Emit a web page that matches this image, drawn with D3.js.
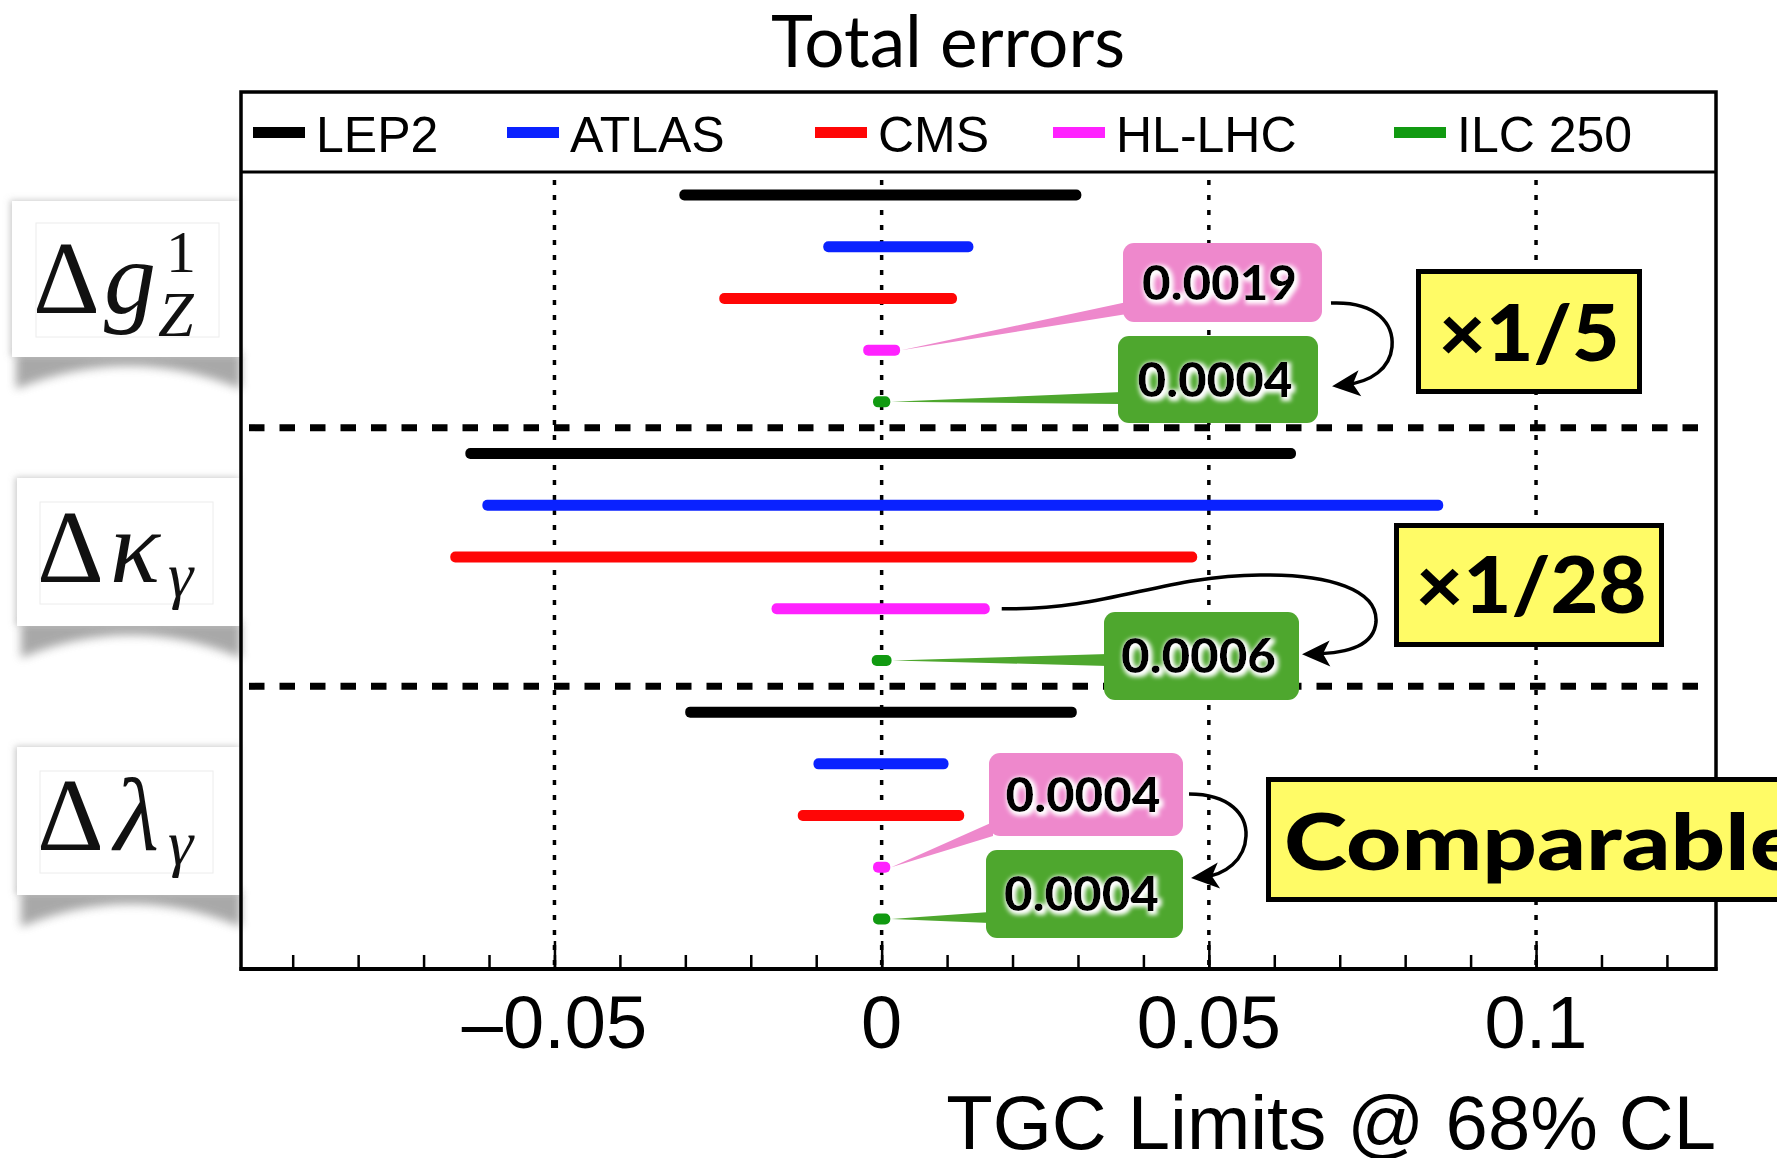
<!DOCTYPE html>
<html>
<head>
<meta charset="utf-8">
<script src="https://cdnjs.cloudflare.com/ajax/libs/d3/7.8.5/d3.min.js"></script>
<style>
  html, body { margin: 0; padding: 0; background: #fff; }
  svg { display: block; }
</style>
</head>
<body>
<svg id="chart" width="1777" height="1158"></svg>
<script>
// ---- data ----
const series = ["LEP2", "ATLAS", "CMS", "HL-LHC", "ILC 250"];
const seriesColors = ["#000000", "#0a22ff", "#ff0606", "#ff22ff", "#119a11"];

// 68% CL intervals, order = series
const g1zLow  = [-0.0300, -0.0080, -0.0239, -0.0019, -0.0004];
const g1zHigh = [ 0.0296,  0.0131,  0.0106,  0.0019,  0.0004];
const kgLow   = [-0.0627, -0.0601, -0.0650, -0.0159, -0.0006];
const kgHigh  = [ 0.0624,  0.0849,  0.0473,  0.0156,  0.0006];
const lgLow   = [-0.0291, -0.0095, -0.0119, -0.0004, -0.0004];
const lgHigh  = [ 0.0289,  0.0093,  0.0117,  0.0004,  0.0004];

const majorTicks = [-0.05, 0, 0.05, 0.1];
const tickLabels = ["\u20130.05", "0", "0.05", "0.1"];
const minorTicks = d3.range(-9, 13).map(d => d / 100);

const calloutLabels = ["0.0019", "0.0004", "0.0006", "0.0004", "0.0004"];
const ratioLabels = ["\u00d71/5", "\u00d71/28", "Comparable"];

// ---- layout ----
const svg = d3.select("#chart");
const frame = { left: 241, right: 1716, top: 92, legendBottom: 172, bottom: 969 };
const capPad = 6;
const barH = 11;

const x = d3.scaleLinear().domain([-0.0979, 0.1275]).range([frame.left, frame.right]);
const y = d3.scaleLinear().domain([0, 14]).range([195, 919]);

const groups = [
    { low: g1zLow, high: g1zHigh },
    { low: kgLow, high: kgHigh },
    { low: lgLow, high: lgHigh }
];

let defs = svg.append("defs");

let glow = defs.append("filter").attr("id", "glow")
    .attr("x", "-20%").attr("y", "-40%").attr("width", "140%").attr("height", "180%");
glow.append("feMorphology").attr("in", "SourceAlpha").attr("operator", "dilate").attr("radius", 2).attr("result", "d");
glow.append("feGaussianBlur").attr("in", "d").attr("stdDeviation", 2).attr("result", "b");
glow.append("feOffset").attr("in", "b").attr("dx", 1.5).attr("dy", 1.5).attr("result", "o");
glow.append("feFlood").attr("flood-color", "#ffffff").attr("result", "w");
glow.append("feComposite").attr("in", "w").attr("in2", "o").attr("operator", "in").attr("result", "halo");
let gm = glow.append("feMerge");
gm.append("feMergeNode").attr("in", "halo");
gm.append("feMergeNode").attr("in", "SourceGraphic");

defs.append("filter").attr("id", "blur")
    .attr("x", "-20%").attr("y", "-50%").attr("width", "140%").attr("height", "200%")
    .append("feGaussianBlur").attr("stdDeviation", 5);

defs.append("filter").attr("id", "cardEdge")
    .attr("x", "-10%").attr("y", "-10%").attr("width", "120%").attr("height", "120%")
    .append("feDropShadow").attr("dx", -2).attr("dy", -1).attr("stdDeviation", 3)
    .attr("flood-color", "#999").attr("flood-opacity", 0.5);

defs.append("marker").attr("id", "head")
    .attr("markerUnits", "userSpaceOnUse")
    .attr("viewBox", "-20 -14 34 28")
    .attr("markerWidth", 34).attr("markerHeight", 28)
    .attr("refX", 0).attr("refY", 0)
    .attr("orient", "auto")
    .append("path")
    .attr("d", "M12,0 L-16,-13 L-9,0 L-16,13 Z")
    .attr("fill", "#000");

// ---- title ----
svg.append("text")
    .attr("x", 948).attr("y", 67)
    .attr("text-anchor", "middle")
    .attr("font-family", "Lato, 'Open Sans', sans-serif")
    .attr("font-size", 72)
    .attr("textLength", 354).attr("lengthAdjust", "spacingAndGlyphs")
    .text("Total errors");

// ---- coupling cards on the left ----
const cards = [
    { x: 12, y: 201, h: 156, inner: [36, 223, 183, 114] },
    { x: 17, y: 478, h: 148, inner: [40, 502, 173, 102] },
    { x: 17, y: 747, h: 148, inner: [40, 771, 173, 102] }
];

cards.forEach(c => {
    let L = c.x + 4, R = frame.left, B = c.y + c.h;
    svg.append("path")
        .attr("d", `M${L},${B - 4} L${R},${B - 4} L${R},${B + 32} Q${(L + R) / 2},${B - 14} ${L},${B + 32} Z`)
        .attr("fill", "#7a7a7a")
        .attr("opacity", 0.65)
        .attr("filter", "url(#blur)");
    svg.append("rect")
        .attr("x", c.x).attr("y", c.y)
        .attr("width", frame.left - c.x).attr("height", c.h)
        .attr("fill", "#fff")
        .attr("filter", "url(#cardEdge)");
    svg.append("rect")
        .attr("x", c.inner[0]).attr("y", c.inner[1])
        .attr("width", c.inner[2]).attr("height", c.inner[3])
        .attr("fill", "#fff").attr("stroke", "#ececec").attr("stroke-width", 1);
});

const mathFont = "'Liberation Serif', 'Times New Roman', serif";
function mathText(px, py, size, str, italic) {
    svg.append("text")
        .attr("x", px).attr("y", py)
        .attr("font-family", mathFont)
        .attr("font-size", size)
        .attr("font-style", italic ? "italic" : "normal")
        .attr("fill", "#111")
        .text(str);
}
// Δg_Z^1
mathText(33, 313, 104, "\u0394", false);
mathText(104, 313, 104, "g", true);
mathText(166, 272, 60, "1", false);
mathText(158, 336, 64, "Z", true);
// Δκ_γ
mathText(37, 582, 104, "\u0394", false);
mathText(110, 582, 104, "\u03ba", true);
mathText(168, 596, 64, "\u03b3", true);
// Δλ_γ
mathText(37, 850, 104, "\u0394", false);
mathText(114, 850, 104, "\u03bb", true);
mathText(168, 864, 64, "\u03b3", true);

// ---- frame and legend ----
svg.append("rect")
    .attr("x", frame.left).attr("y", frame.top)
    .attr("width", frame.right - frame.left).attr("height", frame.bottom - frame.top)
    .attr("fill", "none").attr("stroke", "#000").attr("stroke-width", 3.5);

svg.append("line")
    .attr("x1", frame.left).attr("x2", frame.right)
    .attr("y1", frame.legendBottom).attr("y2", frame.legendBottom)
    .attr("stroke", "#000").attr("stroke-width", 3);

const legendX = [253, 507, 815, 1053, 1394];
let legend = svg.append("g").selectAll("g").data(series).join("g")
    .attr("transform", (d, i) => `translate(${legendX[i]},0)`);
legend.append("line")
    .attr("x1", 0).attr("x2", 52).attr("y1", 132.5).attr("y2", 132.5)
    .attr("stroke", (d, i) => seriesColors[i]).attr("stroke-width", 11);
legend.append("text")
    .attr("x", 63).attr("y", 152)
    .attr("font-family", "'Liberation Sans', Arial, sans-serif")
    .attr("font-size", 50)
    .text(d => d);

// ---- grid and axis ----
svg.append("g").selectAll("line").data(majorTicks).join("line")
    .attr("x1", d => x(d)).attr("x2", d => x(d))
    .attr("y1", frame.legendBottom + 8).attr("y2", frame.bottom - 2)
    .attr("stroke", "#000").attr("stroke-width", 3.5)
    .attr("stroke-dasharray", "5 10");

let minorAxis = svg.append("g")
    .attr("transform", `translate(0,${frame.bottom})`)
    .call(d3.axisTop(x).tickValues(minorTicks).tickSize(14).tickFormat(""));
let majorAxis = svg.append("g")
    .attr("transform", `translate(0,${frame.bottom})`)
    .call(d3.axisTop(x).tickValues(majorTicks).tickSize(28).tickFormat(""));
[minorAxis, majorAxis].forEach(a => {
    a.select(".domain").remove();
    a.selectAll(".tick line").attr("stroke", "#000").attr("stroke-width", 2.5);
});

svg.append("line")
    .attr("x1", frame.left - 1.5).attr("x2", frame.right + 1.5)
    .attr("y1", frame.bottom).attr("y2", frame.bottom)
    .attr("stroke", "#000").attr("stroke-width", 4);

svg.append("g").selectAll("text").data(majorTicks).join("text")
    .attr("x", d => x(d)).attr("y", 1048)
    .attr("text-anchor", "middle")
    .attr("font-family", "'Liberation Sans', Arial, sans-serif")
    .attr("font-size", 74)
    .text((d, i) => tickLabels[i]);

svg.append("text")
    .attr("x", frame.right).attr("y", 1149)
    .attr("text-anchor", "end")
    .attr("font-family", "'Liberation Sans', Arial, sans-serif")
    .attr("font-size", 76)
    .text("TGC Limits @ 68% CL");

// ---- bars ----
let rows = [];
groups.forEach((g, gi) => {
    series.forEach((s, si) => {
        rows.push({ row: gi * 5 + si, lo: g.low[si], hi: g.high[si], color: seriesColors[si] });
    });
});

svg.append("g").selectAll("rect").data(rows).join("rect")
    .attr("x", d => x(d.lo) - capPad)
    .attr("width", d => x(d.hi) - x(d.lo) + 2 * capPad)
    .attr("y", d => y(d.row) - barH / 2)
    .attr("height", barH)
    .attr("rx", 5)
    .attr("fill", d => d.color);

// group separators
svg.append("g").selectAll("line").data([4.5, 9.5]).join("line")
    .attr("x1", frame.left + 8).attr("x2", frame.right - 6)
    .attr("y1", d => y(d)).attr("y2", d => y(d))
    .attr("stroke", "#000").attr("stroke-width", 7)
    .attr("stroke-dasharray", "15.5 15");

// ---- callouts ----
const pink = "#ee88cc", green = "#4ea72e";
const callouts = [
    { g: 0, s: 3, fill: pink,  box: [1123, 243, 199, 79], base: [302, 314] },
    { g: 0, s: 4, fill: green, box: [1118, 336, 200, 87], base: [392, 404] },
    { g: 1, s: 4, fill: green, box: [1104, 612, 195, 88], base: [654, 666] },
    { g: 2, s: 3, fill: pink,  box: [989, 753, 194, 83],  base: [822, 836] },
    { g: 2, s: 4, fill: green, box: [986, 850, 197, 88],  base: [912, 923] }
];

callouts.forEach((c, i) => {
    let tipX = x(groups[c.g].high[c.s]) + capPad + 1;
    let tipY = y(c.g * 5 + c.s);
    let bx = c.box[0] + 4;
    svg.append("path")
        .attr("d", `M${tipX},${tipY} L${bx},${c.base[0]} L${bx},${c.base[1]} Z`)
        .attr("fill", c.fill);
    svg.append("rect")
        .attr("x", c.box[0]).attr("y", c.box[1])
        .attr("width", c.box[2]).attr("height", c.box[3])
        .attr("rx", 11)
        .attr("fill", c.fill);
    svg.append("text")
        .attr("x", c.box[0] + c.box[2] / 2 - 3)
        .attr("y", c.box[1] + c.box[3] / 2 + 17)
        .attr("text-anchor", "middle")
        .attr("font-family", "Lato, 'Open Sans', sans-serif")
        .attr("font-weight", 900)
        .attr("font-size", 47)
        .attr("textLength", 155).attr("lengthAdjust", "spacingAndGlyphs")
        .attr("filter", "url(#glow)")
        .text(calloutLabels[i]);
});

// ---- curved arrows ----
const hlKgEnd = x(kgHigh[3]) + capPad + 12;
const arrows = [
    "M1331,303 C1378,301 1394,325 1392,347 C1390,368 1372,382 1344,385",
    `M${hlKgEnd},${y(8)} C1110,610 1160,576 1260,575 C1330,574 1378,590 1376,622 C1374,645 1350,653 1314,654`,
    "M1189,794 C1230,794 1247,815 1246,836 C1245,860 1225,875 1203,877"
];
svg.append("g").selectAll("path").data(arrows).join("path")
    .attr("d", d => d)
    .attr("fill", "none")
    .attr("stroke", "#000")
    .attr("stroke-width", 3.5)
    .attr("marker-end", "url(#head)");

// ---- ratio boxes ----
const ratioBoxes = [
    { box: [1416, 269, 226, 125], tx: 1529, ty: 361, len: 181, anchor: "middle" },
    { box: [1394, 523, 270, 124], tx: 1531, ty: 613, len: 231, anchor: "middle" },
    { box: [1266, 777, 560, 125], tx: 1284, ty: 870, len: 517, anchor: "start" }
];
ratioBoxes.forEach((r, i) => {
    svg.append("rect")
        .attr("x", r.box[0] + 2.5).attr("y", r.box[1] + 2.5)
        .attr("width", r.box[2] - 5).attr("height", r.box[3] - 5)
        .attr("fill", "#fffb66")
        .attr("stroke", "#000").attr("stroke-width", 5);
    svg.append("text")
        .attr("x", r.tx).attr("y", r.ty)
        .attr("text-anchor", r.anchor)
        .attr("font-family", "Lato, 'Open Sans', sans-serif")
        .attr("font-weight", 900)
        .attr("font-size", 79)
        .attr("textLength", r.len).attr("lengthAdjust", "spacingAndGlyphs")
        .text(ratioLabels[i]);
});
</script>
</body>
</html>
